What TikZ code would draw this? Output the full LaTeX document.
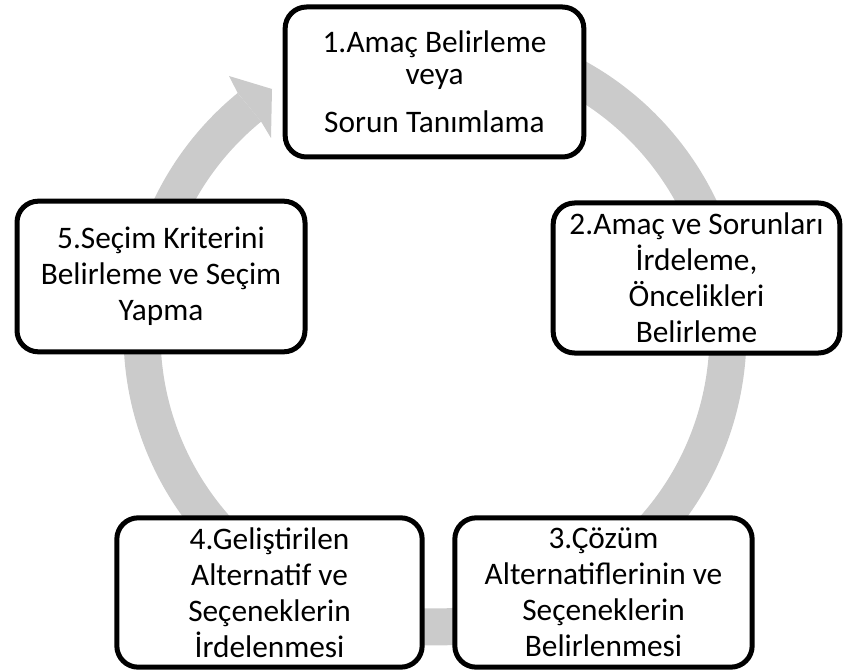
\documentclass[tikz,border=0pt]{standalone}
\usepackage{fontspec}
\setmainfont{Carlito}
\usepackage{xcolor}
\definecolor{ringgray}{HTML}{CBCBCB}
\usetikzlibrary{calc}

\tikzset{
  stepbox/.style={draw=black, line width=3.75pt, rounded corners=16pt, fill=white,
    align=center, inner sep=0pt, font=\fontsize{23.5}{27}\selectfont},
}

\begin{document}
\begin{tikzpicture}[x=0.75pt,y=0.75pt]
\useasboundingbox (0,0) rectangle (846,669);
\coordinate (c) at (435,335);

% gray cycle ring with arrow head
\draw [ringgray, line width=27.75pt] ($(c)+(129.3:219.75pt)$) arc[start angle=129.3, end angle=460, radius=219.75pt];
\fill [ringgray] (237.7,576) -- (229,593) -- (272,580) -- (271,531) -- (261.1,547.4) -- cycle;

% steps
\node (amac) [stepbox, minimum width=224pt, minimum height=112.5pt] at (434.5,587)
  {1.Amaç Belirleme\\[-3pt]veya\\[9pt]Sorun Tanımlama};
\node (irdeleme) [stepbox, minimum width=215pt, minimum height=112.5pt] at (696.5,391)
  {2.Amaç ve Sorunları\\İrdeleme,\\Öncelikleri\\Belirleme};
\node (cozum) [stepbox, minimum width=223pt, minimum height=112pt] at (603.5,76.5)
  {3.Çözüm\\Alternatiflerinin ve\\Seçeneklerin\\Belirlenmesi};
\node (gelistir) [stepbox, minimum width=229pt, minimum height=112pt] at (269.5,76.5)
  {4.Geliştirilen\\Alternatif ve\\Seçeneklerin\\İrdelenmesi};
\node (secim) [stepbox, minimum width=216pt, minimum height=113pt] at (161,392.5)
  {5.Seçim Kriterini\\Belirleme ve Seçim\\Yapma};
\end{tikzpicture}
\end{document}
